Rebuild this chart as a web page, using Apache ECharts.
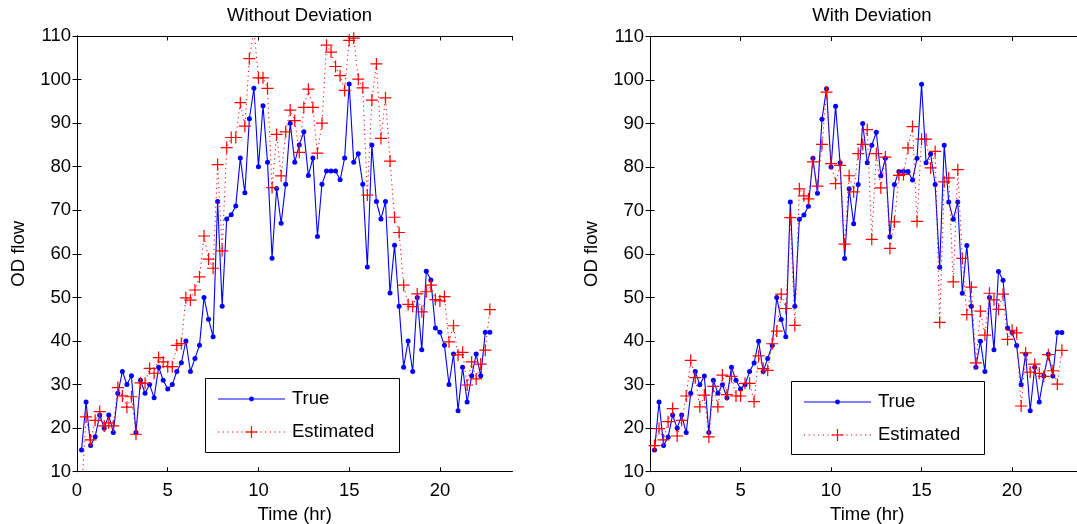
<!DOCTYPE html>
<html>
<head>
<meta charset="utf-8">
<script src="https://cdn.jsdelivr.net/npm/echarts@6/dist/echarts.min.js"></script>
<style>
  html, body { margin: 0; padding: 0; background: #fff; }
  #chart { width: 1077px; height: 524px; }
</style>
</head>
<body>
<div id="chart"></div>
<script>
// Sample times (hours), one every 15 minutes
const hours = [
  0.25, 0.5, 0.75, 1.0, 1.25, 1.5, 1.75, 2.0, 2.25, 2.5,
  2.75, 3.0, 3.25, 3.5, 3.75, 4.0, 4.25, 4.5, 4.75, 5.0,
  5.25, 5.5, 5.75, 6.0, 6.25, 6.5, 6.75, 7.0, 7.25, 7.5,
  7.75, 8.0, 8.25, 8.5, 8.75, 9.0, 9.25, 9.5, 9.75, 10.0,
  10.25, 10.5, 10.75, 11.0, 11.25, 11.5, 11.75, 12.0, 12.25, 12.5,
  12.75, 13.0, 13.25, 13.5, 13.75, 14.0, 14.25, 14.5, 14.75, 15.0,
  15.25, 15.5, 15.75, 16.0, 16.25, 16.5, 16.75, 17.0, 17.25, 17.5,
  17.75, 18.0, 18.25, 18.5, 18.75, 19.0, 19.25, 19.5, 19.75, 20.0,
  20.25, 20.5, 20.75, 21.0, 21.25, 21.5, 21.75, 22.0, 22.25, 22.5,
  22.75
];

// Observed OD flow
const trueFlow = [
  15, 26, 16, 18, 23, 20, 23, 19, 28, 33,
  30, 32, 19, 31, 28, 30, 27, 34, 31, 29,
  30, 33, 35, 40, 33, 36, 39, 50, 45, 41,
  72, 48, 68, 69, 71, 82, 74, 91, 98, 80,
  94, 81, 59, 75, 67, 76, 90, 81, 85, 88,
  78, 82, 64, 76, 79, 79, 79, 77, 82, 99,
  81, 83, 76, 57, 85, 72, 68, 72, 51, 62,
  48, 34, 40, 33, 50, 38, 56, 54, 43, 42,
  39, 30, 37, 24, 34, 26, 32, 37, 32, 42,
  42
];

// Estimated OD flow, model without deviation term
const estNoDev = [
  5.0, 22.6, 17.3, 21.8, 23.8, 20.5, 21.2, 20.5, 29.3, 27.4,
  24.8, 27.2, 18.6, 30.4, 30.3, 33.7, 32.6, 36.2, 35.2, 34.1,
  34.1, 39.0, 39.4, 49.9, 49.4, 51.7, 54.7, 64.1, 58.8, 56.7,
  80.5, 60.7, 84.4, 86.7, 86.7, 94.7, 89.3, 104.8, 111.5, 100.4,
  100.4, 98.0, 75.2, 87.4, 77.9, 88.0, 93.0, 90.6, 83.3, 93.6,
  97.8, 93.6, 83.1, 90.0, 107.9, 106.3, 103.0, 100.9, 97.5, 109.0,
  109.5, 100.1, 98.1, 73.5, 95.3, 103.6, 86.5, 95.8, 81.3, 68.4,
  64.9, 52.8, 48.4, 47.9, 50.8, 46.7, 51.3, 52.8, 49.5, 49.2,
  50.2, 39.8, 43.5, 36.8, 37.4, 29.9, 35.2, 31.3, 34.7, 37.9,
  47.2
];

// Estimated OD flow, model with deviation term
const estDev = [
  16.0, 19.9, 17.3, 21.5, 24.5, 18.2, 21.8, 27.4, 35.6, 31.6,
  24.9, 27.6, 18.0, 29.6, 24.9, 32.2, 27.7, 31.9, 27.4, 27.4,
  30.3, 30.3, 26.1, 36.6, 33.7, 33.3, 39.4, 42.3, 50.8, 47.5,
  68.4, 43.6, 75.0, 73.4, 72.7, 81.2, 75.6, 85.2, 97.2, 80.8,
  76.2, 80.4, 62.3, 78.0, 74.3, 83.1, 85.2, 88.6, 63.4, 83.1,
  75.2, 82.3, 61.3, 67.4, 78.1, 78.3, 84.4, 89.3, 67.5, 86.4,
  86.4, 79.8, 83.6, 44.3, 76.6, 77.5, 53.6, 79.4, 59.0, 46.1,
  52.4, 35.0, 46.9, 41.4, 51.0, 49.5, 47.3, 50.8, 40.4, 42.5,
  41.9, 25.1, 37.3, 32.9, 34.7, 32.6, 31.9, 36.9, 33.2, 30.1,
  37.9
];

const panelTitles = ['Without Deviation', 'With Deviation'];
const seriesNames = ['True', 'Estimated'];
const xAxisName = 'Time (hr)';
const yAxisName = 'OD flow';

const FONT = "'Liberation Sans', Arial, Helvetica, sans-serif";
const FS = 18.5;
const BLUE = '#0000ff';
const RED = '#ff0000';
const PLUS = 'path://M5,0L5,10M0,5L10,5';
const DOTTED = [1.2, 3.5];

const pairs = (ys) => hours.map((t, i) => [t, ys[i]]);

// Plot areas are placed exactly; no automatic shrinking for labels
const grids = [
  { left: 77, right: 564.5, top: 36, bottom: 52.3, containLabel: false, outerBoundsMode: 'none' },
  { left: 650, right: -7.5, top: 36.5, bottom: 52.3, containLabel: false, outerBoundsMode: 'none' }
];

const axisLineStyle = { lineStyle: { color: '#000', width: 1 } };

function xAxes(gi) {
  const base = {
    type: 'value', gridIndex: gi, min: 0, max: 24, interval: 5,
    axisLine: axisLineStyle, splitLine: { show: false },
    axisTick: { inside: true, length: 4.5, lineStyle: { color: '#000' } }
  };
  return [
    Object.assign({}, base, {
      position: 'bottom',
      name: xAxisName, nameLocation: 'middle', nameGap: 33,
      nameTextStyle: { color: '#000', fontSize: FS, fontFamily: FONT },
      axisLabel: { color: '#000', fontSize: FS, fontFamily: FONT, margin: 10, showMaxLabel: false }
    }),
    Object.assign({}, base, { position: 'top', axisLabel: { show: false } })
  ];
}

function yAxes(gi) {
  const base = {
    type: 'value', gridIndex: gi, min: 10, max: 110, interval: 10,
    axisLine: axisLineStyle, splitLine: { show: false },
    axisTick: { inside: true, length: 4.5, lineStyle: { color: '#000' } }
  };
  return [
    Object.assign({}, base, {
      position: 'left',
      name: yAxisName, nameLocation: 'middle', nameGap: 49, nameRotate: 90,
      nameTextStyle: { color: '#000', fontSize: FS, fontFamily: FONT },
      axisLabel: { color: '#000', fontSize: FS, fontFamily: FONT, margin: 6 }
    }),
    Object.assign({}, base, { position: 'right', axisLabel: { show: false } })
  ];
}

function panelSeries(gi, est) {
  return [
    {
      name: seriesNames[0], type: 'line', xAxisIndex: gi * 2, yAxisIndex: gi * 2,
      data: pairs(trueFlow), symbol: 'circle', symbolSize: 5, showAllSymbol: true,
      lineStyle: { color: BLUE, width: 1.1 },
      itemStyle: { color: BLUE }, clip: true, z: 3
    },
    {
      name: seriesNames[1], type: 'line', xAxisIndex: gi * 2, yAxisIndex: gi * 2,
      data: pairs(est), symbol: PLUS, symbolSize: 12, showAllSymbol: true,
      lineStyle: { color: RED, width: 1, type: DOTTED },
      itemStyle: { color: RED, borderColor: RED, borderWidth: 1.2 }, clip: true, z: 4
    }
  ];
}

// Boxed key: line sample with its marker, followed by the series name
function legendBox(x, y, w, h) {
  const lx0 = x + 13, lx1 = x + 80, mx = (lx0 + lx1) / 2, tx = lx1 + 7;
  const r1 = y + 21, r2 = y + 54;
  const els = [
    { type: 'rect', shape: { x: x + 0.5, y: y + 0.5, width: w, height: h },
      style: { fill: '#fff', stroke: '#000', lineWidth: 1 } },
    { type: 'line', shape: { x1: lx0, y1: r1, x2: lx1, y2: r1 },
      style: { stroke: BLUE, lineWidth: 1.1 } },
    { type: 'circle', shape: { cx: mx, cy: r1, r: 2.4 }, style: { fill: BLUE } },
    { type: 'line', shape: { x1: lx0, y1: r2, x2: lx1, y2: r2 },
      style: { stroke: RED, lineWidth: 1, lineDash: DOTTED } },
    { type: 'line', shape: { x1: mx - 6, y1: r2, x2: mx + 6, y2: r2 },
      style: { stroke: RED, lineWidth: 1.2 } },
    { type: 'line', shape: { x1: mx, y1: r2 - 6, x2: mx, y2: r2 + 6 },
      style: { stroke: RED, lineWidth: 1.2 } },
    { type: 'text', style: { text: seriesNames[0], x: tx, y: r1, verticalAlign: 'middle',
      fill: '#000', fontSize: FS, fontFamily: FONT } },
    { type: 'text', style: { text: seriesNames[1], x: tx, y: r2, verticalAlign: 'middle',
      fill: '#000', fontSize: FS, fontFamily: FONT } }
  ];
  return { type: 'group', z: 100, children: els };
}

const option = {
  animation: false,
  backgroundColor: '#fff',
  title: [
    { text: panelTitles[0], left: 294.5, top: 1, textAlign: 'center',
      textStyle: { color: '#000', fontSize: FS, fontWeight: 'normal', fontFamily: FONT } },
    { text: panelTitles[1], left: 867, top: 1, textAlign: 'center',
      textStyle: { color: '#000', fontSize: FS, fontWeight: 'normal', fontFamily: FONT } }
  ],
  grid: grids,
  xAxis: xAxes(0).concat(xAxes(1)),
  yAxis: yAxes(0).concat(yAxes(1)),
  graphic: [legendBox(205, 378, 194, 74), legendBox(791, 381, 193, 73)],
  series: panelSeries(0, estNoDev).concat(panelSeries(1, estDev))
};

const chart = echarts.init(document.getElementById('chart'), null, { renderer: 'canvas' });
chart.setOption(option);
</script>
</body>
</html>
